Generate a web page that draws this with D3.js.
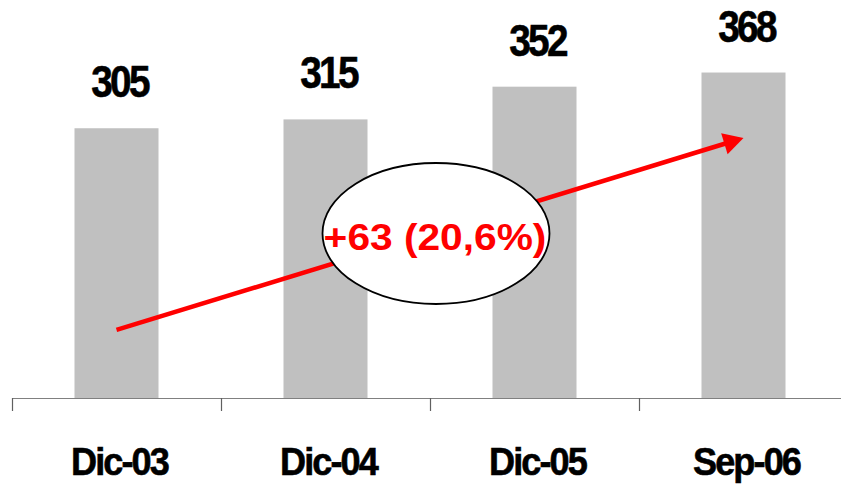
<!DOCTYPE html>
<html>
<head>
<meta charset="utf-8">
<script src="https://cdn.jsdelivr.net/npm/d3@7"></script>
<style>
  html, body { margin: 0; padding: 0; background: #fff; }
  svg { display: block; }
  text { font-family: "Liberation Sans", Arial, sans-serif; font-weight: bold; }
</style>
</head>
<body>
<svg id="chart" width="841" height="485"></svg>
<script>
// Headcount at each closing date
const categories = ["Dic-03", "Dic-04", "Dic-05", "Sep-06"];
const values = [305, 315, 352, 368];

// Growth callout: change between first and last period
const changeLabel = "+63 (20,6%)";
// Trend arrow endpoints, in value units on the y scale
const arrowStartValue = 77;
const arrowEndValue = 294;
// Callout bubble centre, in value units
const bubbleValue = 186;

const yMax = 450;

const width = 841, height = 485;
const baseY = 398;

const svg = d3.select("#chart");

const x = d3.scaleBand()
  .domain(categories)
  .range([12, 848])
  .paddingInner(0.598)
  .paddingOuter(0.299);

const y = d3.scaleLinear()
  .domain([0, yMax])
  .range([baseY, 0]);

const cx = d => x(d) + x.bandwidth() / 2;

// Bars
svg.append("g")
  .selectAll("rect")
  .data(categories)
  .join("rect")
  .attr("x", d => x(d))
  .attr("width", x.bandwidth())
  .attr("y", (d, i) => y(values[i]))
  .attr("height", (d, i) => y(0) - y(values[i]))
  .attr("fill", "#c0c0c0");

// Value labels above bars
svg.append("g")
  .selectAll("text")
  .data(categories)
  .join("text")
  .attr("transform", (d, i) => `translate(${cx(d) + 3},${y(values[i]) - 31}) scale(0.88,1)`)
  .attr("text-anchor", "middle")
  .attr("font-size", 44)
  .attr("letter-spacing", -3)
  .attr("fill", "#000")
  .attr("stroke", "#000")
  .attr("stroke-width", 0.6)
  .text((d, i) => values[i]);

// Category axis: baseline with ticks at band boundaries
const axis = svg.append("g");
axis.append("line")
  .attr("x1", x.range()[0]).attr("x2", width)
  .attr("y1", baseY + 0.5).attr("y2", baseY + 0.5)
  .attr("stroke", "#808080").attr("stroke-width", 1.2);
axis.selectAll("line.tick")
  .data(categories)
  .join("line")
  .attr("class", "tick")
  .attr("x1", (d, i) => Math.round(x.range()[0] + i * x.step()) + 0.5)
  .attr("x2", (d, i) => Math.round(x.range()[0] + i * x.step()) + 0.5)
  .attr("y1", baseY)
  .attr("y2", baseY + 13)
  .attr("stroke", "#606060").attr("stroke-width", 1.2);

axis.selectAll("text")
  .data(categories)
  .join("text")
  .attr("transform", d => `translate(${cx(d) + 3},475) scale(0.95,1)`)
  .attr("text-anchor", "middle")
  .attr("font-size", 38)
  .attr("letter-spacing", -2)
  .attr("fill", "#000")
  .attr("stroke", "#000")
  .attr("stroke-width", 0.6)
  .text(d => d);

// Trend arrow from first to last period
const x0 = cx(categories[0]), y0 = y(arrowStartValue);
const x1 = cx(categories[categories.length - 1]), y1 = y(arrowEndValue);
const ang = Math.atan2(y1 - y0, x1 - x0);
const headLen = 20, headHalf = 11;
const bx = x1 - headLen * Math.cos(ang), by = y1 - headLen * Math.sin(ang);

svg.append("line")
  .attr("x1", x0).attr("y1", y0)
  .attr("x2", bx + 2 * Math.cos(ang)).attr("y2", by + 2 * Math.sin(ang))
  .attr("stroke", "#ff0000").attr("stroke-width", 4.5);

svg.append("path")
  .attr("d", d3.line()([
    [x1, y1],
    [bx - headHalf * Math.sin(ang), by + headHalf * Math.cos(ang)],
    [bx + headHalf * Math.sin(ang), by - headHalf * Math.cos(ang)]
  ]) + "Z")
  .attr("fill", "#ff0000");

// Callout bubble between the middle bars
const bubbleX = (cx(categories[1]) + cx(categories[2])) / 2 + 6;
const bubbleY = y(bubbleValue);
svg.append("ellipse")
  .attr("cx", bubbleX).attr("cy", bubbleY)
  .attr("rx", 113.5).attr("ry", 70.5)
  .attr("fill", "#fff")
  .attr("stroke", "#000").attr("stroke-width", 1.8);

svg.append("text")
  .attr("transform", `translate(${bubbleX - 1},${bubbleY + 16.5}) scale(1.1,1)`)
  .attr("text-anchor", "middle")
  .attr("font-size", 37)
  .attr("fill", "#ff0000")
  .text(changeLabel);
</script>
</body>
</html>
